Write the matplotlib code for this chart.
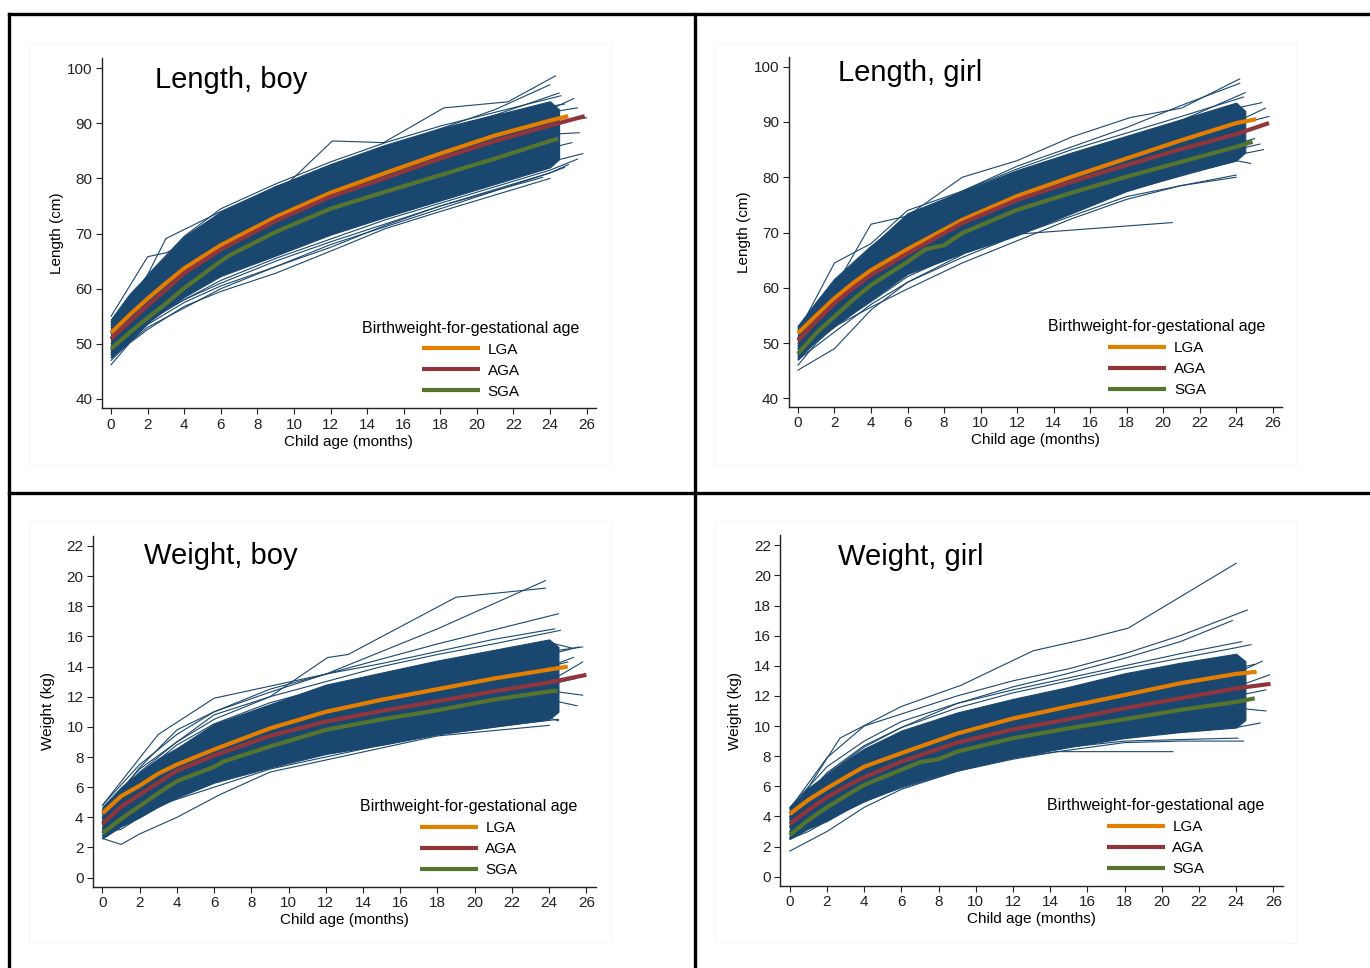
import matplotlib.pyplot as plt
from matplotlib.lines import Line2D
from matplotlib.patches import Rectangle

plt.rcParams['font.family'] = ['Liberation Sans', 'DejaVu Sans']

NAVY = '#1a476f'
ORANGE = '#e37e00'
MAROON = '#90353b'
GREEN = '#55752f'

GROUPS = ['LGA', 'AGA', 'SGA']
X_TICKS = list(range(0, 27, 2))
LEN_TICKS = list(range(40, 101, 10))
WT_TICKS = list(range(0, 23, 2))
BAND_AGES = [0, 1, 2, 3, 4, 6, 9, 12, 15, 18, 21, 24, 24.5]

# ---- Length, boy ----
lb_band_hi = [54.5, 59.0, 62.5, 66.0, 69.5, 74.0, 78.5, 82.5, 86.0, 89.0, 91.5, 94.0, 92.5]
lb_band_lo = [47.5, 50.5, 53.8, 56.3, 58.5, 62.3, 66.0, 69.8, 73.0, 76.0, 79.0, 82.0, 83.5]
lb_lga_age = [0, 1, 2, 3, 4, 6, 9, 12, 15, 18, 21, 24, 25.0]
lb_lga = [52.0, 55.2, 58.2, 61.0, 63.7, 67.9, 73.0, 77.4, 81.0, 84.5, 87.8, 90.5, 91.3]
lb_aga_age = [0, 1, 2, 3, 4, 6, 9, 12, 15, 18, 21, 24, 25.9]
lb_aga = [50.9, 54.0, 57.0, 59.8, 62.8, 67.1, 72.3, 76.7, 80.1, 83.6, 86.8, 89.6, 91.3]
lb_sga_age = [0, 1, 2, 3, 4, 6, 6.5, 9, 12, 15, 18, 21, 24, 24.45]
lb_sga = [49.1, 52.0, 54.7, 57.3, 60.1, 65.0, 66.1, 70.3, 74.5, 77.6, 80.6, 83.6, 86.8, 87.2]
lb_lines = [
    ([0, 2, 4, 6, 9, 12.1, 14.9, 18.2, 21.7, 24.3], [52, 60, 66, 71, 77, 86.8, 86.5, 92.8, 93.9, 98.6]),
    ([0, 2, 3, 4, 6, 9, 12, 15, 18, 21, 24.5], [55, 65.8, 66.5, 68, 72.5, 77.5, 81, 85, 88.5, 91.5, 95.5]),
    ([0, 1, 3, 6, 9, 12, 15, 18, 21, 24], [51, 56, 69.1, 74, 78.5, 82, 85.5, 89, 92.5, 97]),
    ([0, 1, 2, 4, 6, 9, 12, 15, 18, 21, 24], [46.2, 50.1, 52.6, 56.8, 59.5, 62.8, 66.8, 70.9, 74.0, 77.0, 80.0]),
    ([0, 2, 4, 6, 9, 12, 15, 18, 21, 23.6], [47, 53.5, 57.5, 60.5, 64, 67.5, 71.5, 75, 77.8, 80.2]),
    ([0, 2, 4, 6, 9, 12, 15, 18, 21, 24, 25.5], [48, 54, 58, 61.5, 65.5, 69, 72.5, 75.5, 78.5, 81.5, 83.5]),
    ([0, 2, 4, 6, 9, 12, 18, 24, 25.8], [49, 55, 59.5, 63.5, 67.5, 71, 77, 83, 84.5]),
    ([0, 3, 6, 12, 18, 24, 26.0], [53, 62, 68, 77, 84, 90, 91.0]),
    ([0, 3, 6, 12, 18, 24, 25.6], [51, 61, 67, 75, 82, 88, 88.3]),
    ([0, 2, 4, 6, 9, 12, 15, 18, 21, 24.6], [53.5, 62.5, 69.5, 74.5, 79, 83, 86.5, 89.5, 92, 95]),
    ([0, 2, 4, 6, 9, 12, 15, 18, 21, 24.8], [54, 61, 68, 73.5, 78.5, 82.5, 86, 89, 91.5, 93.5]),
    ([0, 1, 2, 4, 6, 9, 12, 18, 24, 25.3], [52, 58, 62, 67, 72, 76.5, 80.5, 87, 92.5, 94.5]),
    ([0, 2, 4, 6, 9, 12, 18, 24, 25.0], [48.5, 54.5, 58, 61, 65, 68.5, 75, 81, 82.5]),
    ([0, 2, 4, 6, 9, 12, 18, 24, 24.8], [47.5, 53, 56.5, 60, 64, 68, 74.5, 81, 82]),
    ([0, 2, 4, 6, 9, 12, 18, 24, 25.2], [50, 56, 60, 64, 68.5, 72.5, 79, 85.5, 86.5]),
    ([0, 2, 4, 6, 9, 12, 18, 24, 25.5], [52.5, 59.5, 64.5, 69.5, 74.5, 79, 86, 92, 92.8]),
]

# ---- Length, girl ----
lg_band_hi = [53.0, 57.5, 61.5, 64.5, 67.5, 73.5, 77.5, 81.3, 84.5, 87.5, 90.5, 93.5, 92.0]
lg_band_lo = [47.0, 50.5, 53.0, 55.5, 57.8, 62.5, 66.2, 69.5, 73.5, 77.5, 80.5, 83.0, 84.5]
lg_lga_age = [0, 1, 2, 3, 4, 6, 9, 12, 15, 18, 21, 24, 25.1]
lg_lga = [51.8, 55.0, 58.1, 60.8, 63.2, 67.0, 72.3, 76.6, 80.1, 83.4, 86.7, 89.8, 90.5]
lg_aga_age = [0, 1, 2, 3, 4, 6, 9, 12, 15, 18, 21, 24, 25.8]
lg_aga = [50.4, 54.0, 57.2, 59.9, 62.3, 66.2, 71.7, 75.9, 79.2, 82.2, 85.1, 87.8, 89.8]
lg_sga_age = [0, 1, 2, 3, 4, 6, 7, 8, 9, 12, 15, 18, 21, 24, 24.9]
lg_sga = [48.1, 51.8, 54.8, 57.8, 60.5, 64.7, 67.0, 67.7, 69.9, 74.1, 77.2, 80.1, 82.8, 85.5, 86.4]
lg_lines = [
    ([0, 2, 4, 6, 9, 12, 15, 18.2, 21, 24.2], [49.5, 60, 71.5, 73, 80, 83, 87.3, 90.8, 92.5, 97.8]),
    ([0, 2, 4, 6, 9, 12, 15, 18, 21, 24.2], [52, 64.5, 68, 74, 77.5, 82, 85.5, 89, 93, 97]),
    ([0, 2, 4, 6, 9, 10.2, 13.2, 20.5], [45.1, 49.0, 56, 61, 66, 69.3, 70.0, 71.8]),
    ([0, 1, 2, 4, 6, 9, 12, 15, 18, 21, 24], [46, 50, 53, 56.5, 59.8, 64.5, 68.5, 72.5, 76, 78.5, 80.4]),
    ([0, 2, 4, 6, 9, 12, 15, 18, 21, 24], [47, 52, 57, 61, 65.5, 69.5, 73, 76.5, 78.5, 80]),
    ([0, 2, 4, 6, 9, 12, 15, 18, 21, 24, 25.5], [48, 54, 59, 63, 67.5, 71.5, 75, 78.5, 81.5, 84, 85]),
    ([0, 3, 6, 12, 18, 24, 25.6], [52, 62, 68, 77, 84, 90, 92.5]),
    ([0, 3, 6, 12, 18, 24, 25.3], [50, 60, 66, 74, 80, 85, 86]),
    ([0, 2, 5, 8, 12, 18, 24.5], [51, 59, 66, 71, 78, 86, 95.3]),
    ([0, 2, 4, 6, 9, 12, 15, 18, 21, 24.4], [53, 61.5, 67.5, 72.5, 77.5, 81.5, 85, 88, 91, 94.5]),
    ([0, 2, 4, 6, 9, 12, 18, 24, 25.4], [52.5, 60, 66, 71, 76, 80, 87, 92.5, 93.5]),
    ([0, 2, 4, 6, 9, 12, 18, 24, 24.8], [47.5, 53, 57.5, 62, 66.5, 70, 77.5, 83, 82.5]),
    ([0, 2, 4, 6, 9, 12, 18, 24, 25.0], [49, 55.5, 60, 64.5, 69, 73, 80, 86, 87]),
    ([0, 2, 4, 6, 9, 12, 18, 24, 25.8], [51, 58, 63, 67.5, 72.5, 76.5, 84, 89.5, 91]),
]

# ---- Weight, boy ----
wb_band_hi = [4.7, 6.0, 7.0, 7.9, 8.6, 10.2, 11.5, 12.8, 13.6, 14.4, 15.1, 15.8, 15.3]
wb_band_lo = [2.6, 3.4, 4.0, 4.7, 5.3, 6.3, 7.3, 8.2, 8.8, 9.5, 10.0, 10.5, 11.0]
wb_lga_age = [0, 1, 2, 3, 4, 6, 9, 12, 15, 18, 21, 24, 25.0]
wb_lga = [4.27, 5.4, 6.1, 6.9, 7.5, 8.5, 9.9, 11.0, 11.8, 12.5, 13.2, 13.8, 14.0]
wb_aga_age = [0, 1, 2, 3, 4, 6, 9, 12, 15, 18, 21, 24, 26.0]
wb_aga = [3.56, 4.7, 5.5, 6.3, 7.1, 8.1, 9.4, 10.35, 11.06, 11.7, 12.35, 12.95, 13.45]
wb_sga_age = [0, 1, 2, 3, 4, 6, 6.5, 9, 12, 15, 18, 21, 24, 24.45]
wb_sga = [2.94, 3.9, 4.75, 5.6, 6.4, 7.35, 7.7, 8.7, 9.8, 10.5, 11.1, 11.8, 12.35, 12.4]
wb_lines = [
    ([0, 2, 4, 6, 9, 12.1, 13.2, 19.0, 23.8], [4.5, 7.0, 9.0, 10.5, 12.0, 14.6, 14.8, 18.6, 19.2]),
    ([0, 3, 6, 9, 12, 18, 23.8], [4.8, 9.5, 11.9, 12.7, 13.5, 16.5, 19.7]),
    ([0, 2, 4, 6, 9, 12, 18, 24.5], [4.2, 7.3, 9.8, 11.0, 12.3, 13.5, 15.5, 17.5]),
    ([0, 1, 2, 4, 6.3, 9, 12, 18, 24], [2.6, 2.2, 2.9, 4.0, 5.5, 7.0, 7.8, 9.4, 10.1]),
    ([0, 1, 3, 6, 9, 12, 15, 18, 21, 24.5], [3.0, 3.2, 4.8, 6.0, 7.2, 8.0, 8.8, 9.5, 10.0, 10.5]),
    ([0, 2, 4, 6, 9, 12, 15, 18, 21, 24, 25.8], [3.5, 5.5, 7.0, 8.3, 9.5, 10.5, 11.2, 12.0, 12.5, 13.0, 14.3]),
    ([0, 2, 4, 6, 9, 12, 18, 24, 25.6], [3.8, 6.3, 8.0, 9.3, 10.8, 12.0, 13.5, 14.8, 15.3]),
    ([0, 2, 4, 6, 9, 12, 18, 24, 25.5], [3.2, 5.0, 6.5, 7.8, 9.0, 10.0, 11.0, 11.8, 11.4]),
    ([0, 3, 6, 12, 18, 24, 25.3], [4.0, 7.0, 9.0, 11.5, 13.0, 14.0, 14.6]),
    ([0, 3, 6, 12, 18, 24, 25.8], [3.0, 5.5, 7.3, 9.5, 11.0, 12.4, 12.1]),
    ([0, 2, 4, 6, 9, 12, 15, 18, 21, 24.3], [4.8, 7.5, 9.5, 11.0, 12.5, 13.5, 14.2, 15.0, 15.8, 16.5]),
    ([0, 2, 4, 6, 9, 12, 15, 18, 21, 24.6], [4.5, 7.2, 9.0, 10.8, 12.0, 13.0, 14.0, 14.8, 15.5, 16.4]),
    ([0, 2, 4, 6, 9, 12, 18, 24, 25.3], [4.0, 6.8, 8.8, 10.2, 11.6, 12.6, 14.2, 15.6, 15.2]),
    ([0, 2, 4, 6, 9, 12, 18, 24, 24.5], [2.8, 4.3, 5.5, 6.5, 7.6, 8.4, 9.8, 10.6, 10.4]),
    ([0, 2, 4, 6, 9, 12, 18, 24, 25.4], [3.3, 5.2, 6.8, 8.0, 9.2, 10.2, 11.6, 12.8, 13.2]),
    ([0, 2, 4, 6, 9, 12, 18, 24, 25.0], [3.6, 5.8, 7.4, 8.7, 10.0, 11.0, 12.6, 14.0, 14.3]),
    ([0, 2, 4, 6, 9, 12, 18, 24, 25.8], [3.9, 6.0, 7.8, 9.2, 10.6, 11.6, 13.4, 15.0, 15.3]),
]

# ---- Weight, girl ----
wg_band_hi = [4.6, 5.9, 6.8, 7.7, 8.5, 9.7, 10.9, 11.8, 12.6, 13.5, 14.2, 14.8, 14.3]
wg_band_lo = [2.5, 3.2, 3.7, 4.4, 5.0, 6.0, 7.1, 7.9, 8.6, 9.2, 9.6, 9.9, 10.4]
wg_lga_age = [0, 1, 2, 3, 4, 6, 9, 12, 15, 18, 21, 24, 25.1]
wg_lga = [4.16, 5.1, 5.87, 6.6, 7.3, 8.2, 9.5, 10.5, 11.3, 12.06, 12.84, 13.46, 13.6]
wg_aga_age = [0, 1, 2, 3, 4, 6, 9, 12, 15, 18, 21, 24, 25.85]
wg_aga = [3.5, 4.43, 5.27, 5.98, 6.6, 7.64, 8.9, 9.78, 10.45, 11.18, 11.84, 12.5, 12.8]
wg_sga_age = [0, 1, 2, 3, 4, 6, 7, 8, 9, 12, 15, 18, 21, 24, 25.0]
wg_sga = [2.77, 3.76, 4.6, 5.36, 6.09, 7.1, 7.6, 7.8, 8.3, 9.19, 9.85, 10.45, 11.07, 11.6, 11.84]
wg_lines = [
    ([0, 2.7, 6, 9.2, 13.1, 16, 18.2, 24.0], [4.0, 9.2, 11.3, 12.7, 15.0, 15.8, 16.5, 20.8]),
    ([0, 2, 4, 6, 9, 12, 15, 18, 21, 24.6], [4.5, 7.9, 10.0, 10.8, 12.0, 13.0, 13.8, 14.8, 16.0, 17.7]),
    ([0, 2, 4, 6, 9, 12, 15, 18, 21, 23.8], [4.3, 6.8, 8.6, 9.9, 11.5, 12.6, 13.5, 14.5, 15.6, 17.0]),
    ([0, 2, 4, 6, 9, 12, 14.4, 20.6], [1.7, 3.0, 4.6, 5.8, 7.0, 7.8, 8.3, 8.3]),
    ([0, 1, 2, 4, 6, 9, 12, 15, 18, 21, 24.4], [2.5, 3.0, 3.7, 5.0, 5.9, 7.0, 7.9, 8.4, 8.9, 9.0, 9.0]),
    ([0, 2, 4, 6, 9, 12, 15, 18, 21, 24.1], [2.8, 4.2, 5.3, 6.3, 7.3, 8.1, 8.6, 9.0, 9.1, 9.2]),
    ([0, 2, 4, 6, 9, 12, 18, 24, 25.8], [3.4, 5.3, 6.8, 7.8, 9.1, 10.0, 11.4, 12.6, 13.4]),
    ([0, 2, 4, 6, 9, 12, 18, 24, 25.6], [3.0, 4.6, 6.0, 7.1, 8.3, 9.1, 10.4, 11.2, 11.0]),
    ([0, 3, 6, 12, 18, 24, 25.4], [3.8, 6.5, 8.5, 10.8, 12.5, 13.5, 14.3]),
    ([0, 2, 4, 6, 9, 12, 15, 18, 21, 24.3], [4.6, 7.3, 9.0, 10.3, 11.5, 12.4, 13.2, 14.0, 14.8, 15.6]),
    ([0, 2, 4, 6, 9, 12, 18, 24, 24.8], [4.2, 6.9, 8.7, 9.9, 11.2, 12.2, 13.8, 15.2, 15.4]),
    ([0, 2, 4, 6, 9, 12, 18, 24, 25.3], [2.6, 3.8, 5.1, 6.1, 7.2, 8.0, 9.3, 9.9, 10.2]),
    ([0, 2, 4, 6, 9, 12, 18, 24, 25.0], [3.9, 6.1, 7.8, 8.9, 10.2, 11.1, 12.6, 13.8, 14.1]),
    ([0, 2, 4, 6, 9, 12, 18, 24, 25.6], [3.3, 5.2, 6.6, 7.6, 8.8, 9.6, 11.0, 12.0, 12.4]),
]


def draw_panel(ax, band_hi, band_lo, lines, means, title, title_xy,
               ylabel, yticks, ylim):
    ax.fill_between(BAND_AGES, band_lo, band_hi, color=NAVY, lw=0.8,
                    edgecolor=NAVY, zorder=1)
    for ages, vals in lines:
        ax.plot(ages, vals, color=NAVY, lw=0.8, zorder=2)
    for (ages, vals), name, col in zip(means, GROUPS, [ORANGE, MAROON, GREEN]):
        ax.plot(ages, vals, color=col, lw=3, label=name, zorder=3,
                solid_capstyle='butt')

    ax.set_xlim(-0.5, 26.5)
    ax.set_ylim(*ylim)
    ax.set_xticks(X_TICKS)
    ax.set_yticks(yticks)
    ax.tick_params(labelsize=11, length=4, width=0.8, pad=3, colors='#222222')
    for side in ['top', 'right']:
        ax.spines[side].set_visible(False)
    for side in ['left', 'bottom']:
        ax.spines[side].set_linewidth(1.0)
        ax.spines[side].set_color('#222222')
    ax.set_xlabel('Child age (months)', fontsize=11)
    ax.set_ylabel(ylabel, fontsize=11)
    ax.xaxis.set_label_coords(0.5, -0.075)
    ax.yaxis.set_label_coords(-0.076, 0.5)
    ax.text(title_xy[0], title_xy[1], title, transform=ax.transAxes,
            fontsize=21, ha='left', va='center')
    leg = ax.legend(title='Birthweight-for-gestational age', frameon=False,
                    loc='lower center', bbox_to_anchor=(0.747, -0.007),
                    fontsize=11, title_fontsize=11.5, handlelength=3.8,
                    handletextpad=0.5, labelspacing=0.45, borderpad=0.3)
    return leg


fig = plt.figure(figsize=(13.7, 9.68), dpi=100)

# faint graph-region boxes
for (x0, y0, x1, y1) in [(29, 43, 611, 465), (715, 43, 1296, 465),
                         (29, 521, 611, 943), (715, 521, 1296, 943)]:
    fig.add_artist(Rectangle((x0 / 1370, 1 - y1 / 968), (x1 - x0) / 1370,
                             (y1 - y0) / 968, transform=fig.transFigure,
                             fill=False, edgecolor='#f7f7f7', lw=0.8))

ax1 = fig.add_axes([0.0744, 0.5782, 0.3604, 0.3616])
ax2 = fig.add_axes([0.5758, 0.5799, 0.3598, 0.3609])
ax3 = fig.add_axes([0.0680, 0.0840, 0.3668, 0.3623])
ax4 = fig.add_axes([0.5697, 0.0850, 0.3665, 0.3620])

draw_panel(ax1, lb_band_hi, lb_band_lo, lb_lines,
           [(lb_lga_age, lb_lga), (lb_aga_age, lb_aga), (lb_sga_age, lb_sga)],
           'Length, boy', (0.108, 0.938), 'Length (cm)', LEN_TICKS, (38.3, 101.8))
draw_panel(ax2, lg_band_hi, lg_band_lo, lg_lines,
           [(lg_lga_age, lg_lga), (lg_aga_age, lg_aga), (lg_sga_age, lg_sga)],
           'Length, girl', (0.100, 0.955), 'Length (cm)', LEN_TICKS, (38.5, 101.7))
draw_panel(ax3, wb_band_hi, wb_band_lo, wb_lines,
           [(wb_lga_age, wb_lga), (wb_aga_age, wb_aga), (wb_sga_age, wb_sga)],
           'Weight, boy', (0.101, 0.943), 'Weight (kg)', WT_TICKS, (-0.6, 22.66))
draw_panel(ax4, wg_band_hi, wg_band_lo, wg_lines,
           [(wg_lga_age, wg_lga), (wg_aga_age, wg_aga), (wg_sga_age, wg_sga)],
           'Weight, girl', (0.115, 0.938), 'Weight (kg)', WT_TICKS, (-0.6, 22.66))

# black frame lines of the combined figure
frame = [((9, 14), (1370, 14)), ((9, 14), (9, 968)), ((695, 14), (695, 968)),
         ((9, 493), (1370, 493))]
for (xa, ya), (xb, yb) in frame:
    fig.add_artist(Line2D([xa / 1370, xb / 1370], [1 - ya / 968, 1 - yb / 968],
                          transform=fig.transFigure, color='black', lw=2.4))

fig.savefig('out.png', dpi=100)
